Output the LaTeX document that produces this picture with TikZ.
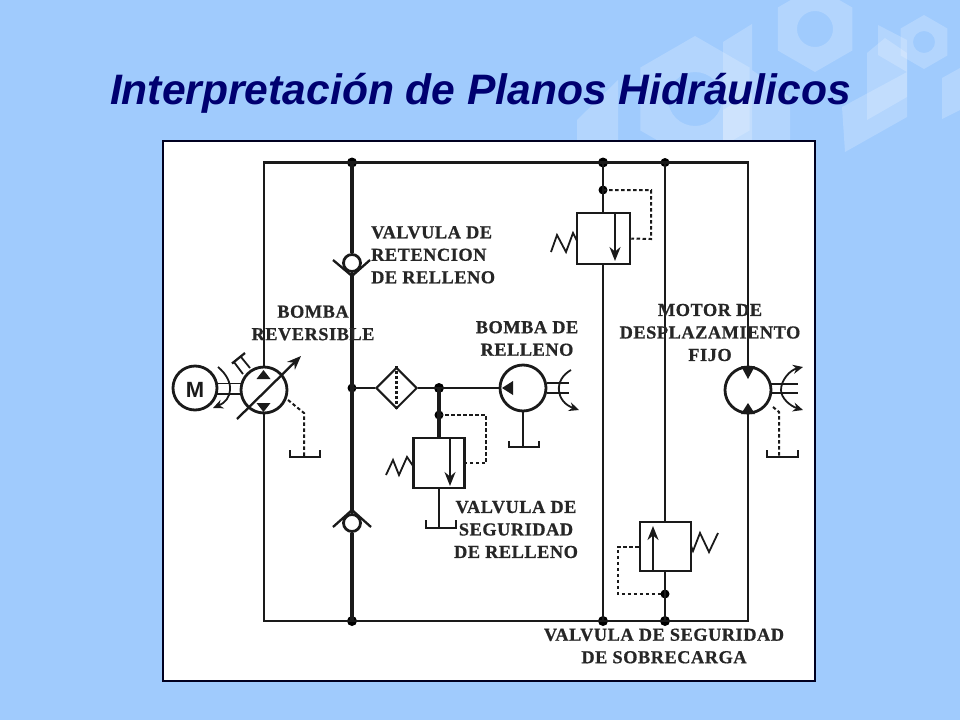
\documentclass[tikz,border=0pt]{standalone}
\usepackage{fontspec}
\setmainfont{Liberation Serif}
\newfontfamily\titlefont{Liberation Sans}
\newfontfamily\labelfont[LetterSpace=3,BoldFeatures={FakeBold=0.7}]{Liberation Serif}
\usetikzlibrary{arrows.meta}
\definecolor{bgblue}{HTML}{A0CBFD}
\definecolor{navytitle}{HTML}{000070}
\definecolor{framenavy}{HTML}{000020}
\definecolor{inkgray}{HTML}{1A1A1A}
\definecolor{labelgray}{HTML}{262626}
\tikzset{
  deco/.style={fill=white,opacity=0.2,draw=none},
  frame/.style={draw=framenavy,line width=2.6pt,fill=white},
  thick line/.style={draw=inkgray,line width=3.2pt},
  pipe/.style={draw=inkgray,line width=2.3pt},
  thin pipe/.style={draw=inkgray,line width=1.8pt},
  pilot/.style={draw=inkgray,line width=2pt,dash pattern=on 3.5pt off 2.5pt},
  junction/.style={circle,fill=black,inner sep=0pt,minimum size=10pt},
  symbolc/.style={circle,draw=inkgray,line width=2.8pt,fill=white,inner sep=0pt},
  valvebox/.style={rectangle,draw=inkgray,line width=2.5pt,fill=white,inner sep=0pt},
  motorletter/.style={font=\titlefont\bfseries\fontsize{22}{22}\selectfont,text=inkgray},
  lbl/.style={font=\labelfont\bfseries\fontsize{18.3}{22.5}\selectfont,text=labelgray,align=center,inner sep=0pt},
  lbll/.style={lbl,align=left},
  tip/.style={-{Stealth[length=14pt,width=11pt]}},
  smalltip/.style={-{Stealth[length=10pt,width=9pt]}},
}
\newcommand{\nutshape}[4]{%
  \fill[deco,even odd rule] (#1,#2) +(30:#3) -- +(90:#3) -- +(150:#3) -- +(210:#3) -- +(270:#3) -- +(330:#3) -- cycle (#1,#2) circle (#4);}
\begin{document}
\begin{tikzpicture}[x=1pt,y=-1pt]
\useasboundingbox (0,0) rectangle (960,720);
\fill[bgblue] (0,0) rectangle (960,720);
% background ornament
\begin{scope}
\clip (0,0) rectangle (960,720);
\nutshape{815}{29}{43}{18}
\nutshape{924}{42}{27}{11}
\nutshape{695}{99}{63}{27}
\fill[deco] (577,120)--(618,80)--(618,145)--(577,145)--cycle;
\fill[deco] (723,110)--(752,93)--(752,145)--(723,145)--cycle;
\fill[deco] (723,42)--(752,24)--(752,70)--(790,97)--(790,140)--(723,140)--cycle;
\fill[deco] (842,107)--(907,72)--(907,117)--(845,152)--cycle;
\fill[deco] (867,53)--(885,38)--(907,53)--(907,97)--(867,120)--cycle;
\fill[deco] (878,25)--(907,40)--(907,72)--(878,55)--cycle;
\fill[deco] (942,78)--(960,68)--(960,110)--(942,119)--cycle;
\end{scope}
% title
\node[inner sep=0pt,text=navytitle,font=\titlefont\bfseries\itshape\fontsize{42.6}{46}\selectfont] (title) at (480.5,93) {Interpretación de Planos Hidráulicos};
% white panel
\node[frame,minimum width=652pt,minimum height=540pt,inner sep=0pt,anchor=north west] (panel) at (161.5,139.5) {};

% symbols
\node[symbolc,minimum size=44pt] (mot) at (195,388) {};
\node[motorletter] (mletter) at (195,389.5) {M};
\node[symbolc,minimum size=46pt] (pumpA) at (264,390) {};
\node[symbolc,minimum size=46pt] (pumpB) at (523,388) {};
\node[symbolc,minimum size=46pt] (hmotor) at (748,390) {};
\node[symbolc,minimum size=17pt] (checkU) at (352,263) {};
\node[symbolc,minimum size=17pt] (checkL) at (352,523) {};
\node[valvebox,minimum width=53pt,minimum height=51pt] (valveU) at (603.5,238.5) {};
\node[valvebox,minimum width=51pt,minimum height=50pt] (valveM) at (439,463) {};
\node[valvebox,minimum width=51pt,minimum height=49pt] (valveR) at (665.5,546.5) {};
\node[draw=inkgray,line width=2pt,fill=white,minimum size=28.5pt,inner sep=0pt,rotate=45] (filter) at (396.5,388) {};

% named points
\node[junction] (jTop1) at (352,162.5) {};
\node[junction] (jTop2) at (603,162.5) {};
\node[junction,minimum size=9pt] (jTop3) at (665,162.5) {};
\node[junction] (jBot1) at (352,621) {};
\node[junction] (jBot2) at (603,621) {};
\node[junction] (jBot3) at (665,621) {};
\node[junction,minimum size=9pt] (jU) at (603,190) {};
\node[junction,minimum size=9pt] (jR) at (665,594) {};
\node[junction,minimum size=9pt] (jF) at (352,388) {};
\node[junction] (jM) at (439,388) {};
\node[junction,minimum size=9pt] (jP) at (439,415) {};
\coordinate (TL) at (264,162.5);
\coordinate (TR) at (748,162.5);
\coordinate (BL) at (264,621);
\coordinate (BR) at (748,621);

% main lines
\draw[pipe,line cap=rect] (TL) -- (TR);
\draw[pipe,line cap=rect] (BL) -- (BR);
\draw[pipe] (TL) -- (pumpA.north);
\draw[pipe] (pumpA.south) -- (BL);
\draw[thick line] (jTop1.center) -- (checkU.north);
\draw[thick line] (checkU.south) -- (checkL.north);
\draw[thick line] (checkL.south) -- (jBot1.center);
\draw[pipe] (jTop2.center) -- (jTop2 |- valveU.north);
\draw[pipe] (jBot2.center) -- (jBot2 |- valveU.south);
\draw[pipe] (jTop3.center) -- (jTop3 |- valveR.north);
\draw[pipe] (jBot3.center) -- (jBot3 |- valveR.south);
\draw[pipe] (TR) -- (hmotor.north);
\draw[pipe] (hmotor.south) -- (BR);
\draw[pipe] (jF.center) -- (filter.north west);
\draw[pipe] (filter.south east) -- (pumpB.west);
\draw[thick line] (jM.center) -- (valveM.north);

% filter dashed centre
\draw[line width=2.2pt,dash pattern=on 2.5pt off 2.5pt,draw=inkgray] (filter.north east) -- (filter.south west);

% check valve chevrons
\coordinate (cuL) at (333,260); \coordinate (cuA) at (352,276); \coordinate (cuR) at (370,260);
\draw[pipe] (cuL) -- (cuA) -- (cuR);
\coordinate (clL) at (333,527); \coordinate (clA) at (352,510); \coordinate (clR) at (371,527);
\draw[pipe] (clL) -- (clA) -- (clR);

% main pump details
\coordinate (sA1) at (217,383.5); \coordinate (sA2) at (241,383.5);
\coordinate (sB1) at (217,394); \coordinate (sB2) at (241,394);
\draw[thin pipe] (sA1) -- (sA2); \draw[thin pipe] (sB1) -- (sB2);
\draw[pipe] (232,363.5) -- (245,353);
\draw[thin pipe] (234,362) -- (243,374);
\draw[thin pipe] (241,357) -- (250,368);
\draw[thin pipe,smalltip] (218,367) .. controls (236,382) and (232,400) .. (213,408);
\fill[inkgray] (263.5,370) -- (256.5,379) -- (270.5,379) -- cycle;
\fill[inkgray] (263.5,412) -- (256.5,403) -- (270.5,403) -- cycle;
\draw[pipe,tip] (237,419) -- (301,356);
\coordinate (dA1) at (288,400); \coordinate (dA2) at (304,413); \coordinate (dA3) at (304,456);
\draw[pilot] (dA1) -- (dA2) -- (dA3);
\draw[thin pipe] (290,450) -- (290,457) -- (320,457) -- (320,450);

% charge pump details
\fill[inkgray] (502,388) -- (513,381) -- (513,395) -- cycle;
\draw[thin pipe] (547,383) -- (569,383);
\draw[thin pipe] (547,393) -- (569,393);
\draw[thin pipe,smalltip] (571,370) .. controls (553,380) and (556,402) .. (579,410);
\coordinate (tB) at (523,447);
\draw[pipe] (pumpB.south) -- (tB);
\draw[thin pipe] (509,441) -- (509,447) -- (539,447) -- (539,441);

% charge relief valve
\draw[pilot] (jP.center) -- (486,415) -- (486,463) -- (valveM.east |- 0,463);
\coordinate (mArrowA) at (450,438); \coordinate (mArrowB) at (450,486);
\draw[thin pipe,tip] (mArrowA) -- (mArrowB);
\draw[thin pipe] (386,475) -- (393,460) -- (399,475) -- (407,457) -- (413,466);
\coordinate (tM) at (439,528);
\draw[pipe] (valveM.south) -- (tM);
\draw[thin pipe] (426,520) -- (426,528) -- (456,528) -- (456,520);

% upper relief valve
\draw[pilot] (jU.center) -- (651,190) -- (651,239) -- (valveU.east);
\coordinate (uArrowA) at (615,213); \coordinate (uArrowB) at (615,261);
\draw[thin pipe,tip] (uArrowA) -- (uArrowB);
\draw[thin pipe] (551,252) -- (557,235) -- (566,252) -- (573,233) -- (577,241);

% lower relief valve
\draw[pilot] (valveR.west) -- (618,546.5) -- (618,594) -- (jR.center);
\coordinate (rArrowA) at (653,571); \coordinate (rArrowB) at (653,526);
\draw[pipe,tip] (rArrowA) -- (rArrowB);
\draw[thin pipe] (691,546) -- (693,551) -- (700,533) -- (709,552) -- (718,533);

% motor details
\fill[inkgray] (748,379) -- (741,366) -- (755,366) -- cycle;
\fill[inkgray] (748,403) -- (741,414) -- (755,414) -- cycle;
\draw[thin pipe] (771,384) -- (798,384);
\draw[thin pipe] (771,393) -- (798,393);
\draw[thin pipe,smalltip] (781,390) .. controls (781,380) and (790,370) .. (803,367);
\draw[thin pipe,smalltip] (781,390) .. controls (781,398) and (790,406) .. (803,410);
\coordinate (dM1) at (773,407); \coordinate (dM2) at (779,412); \coordinate (dM3) at (779,456);
\draw[pilot] (dM1) -- (dM2) -- (dM3);
\draw[thin pipe] (767,450) -- (767,457) -- (798,457) -- (798,450);

% labels
\node[lbl] (lBomba) at (313,323) {BOMBA\\REVERSIBLE};
\node[lbl] (lRelleno) at (527,338.5) {BOMBA DE\\RELLENO};
\node[lbll,anchor=north west] (lRet) at (371,226) {VALVULA DE\\RETENCION\\DE RELLENO};
\node[lbl] (lSeg) at (516,529.5) {VALVULA DE\\SEGURIDAD\\DE RELLENO};
\node[lbl] (lMot) at (710,332.5) {MOTOR DE\\DESPLAZAMIENTO\\FIJO};
\node[lbl] (lSob) at (664,646) {VALVULA DE SEGURIDAD\\DE SOBRECARGA};
\end{tikzpicture}
\end{document}
